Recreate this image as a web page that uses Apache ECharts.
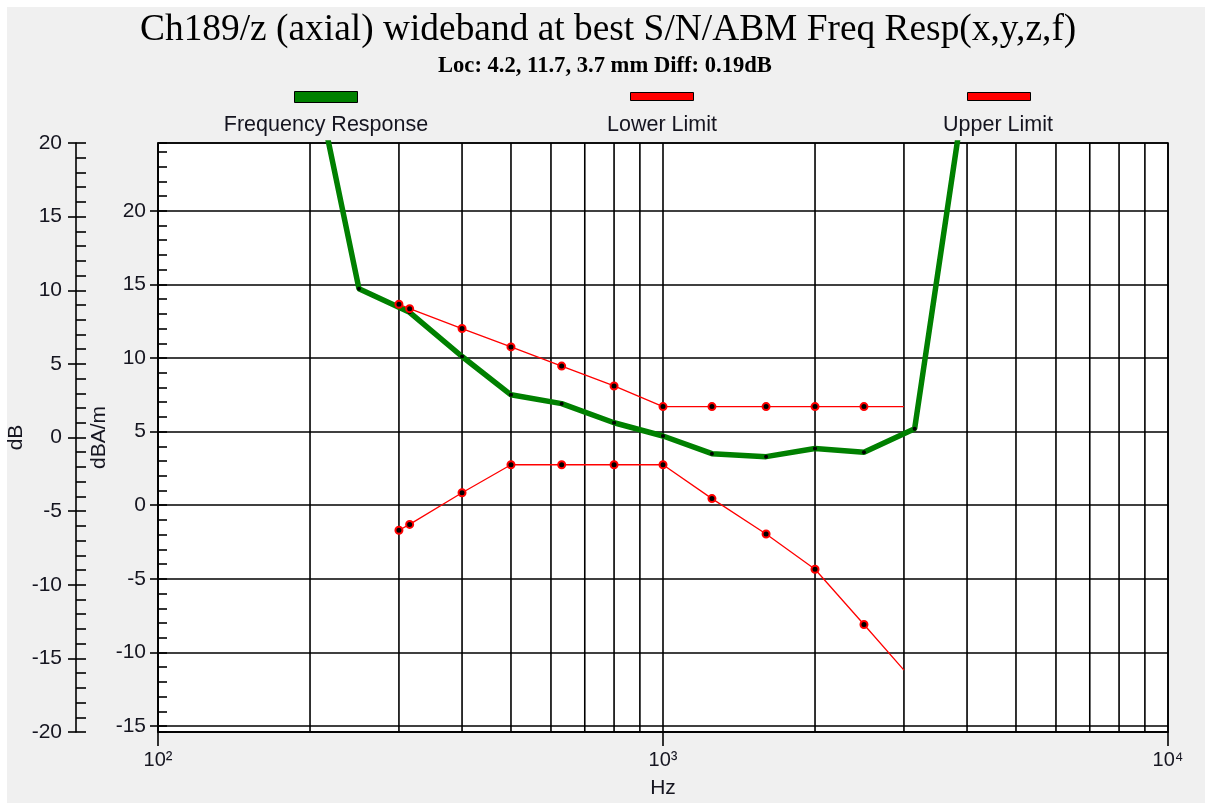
<!DOCTYPE html>
<html><head><meta charset="utf-8">
<script src="https://cdn.jsdelivr.net/npm/echarts@6/dist/echarts.min.js"></script>
<style>
html,body{margin:0;padding:0;background:#fff;}
#c{width:1205px;height:803px;background:#f0f0f0;box-shadow:inset 7px 7px 0 0 #fff;}
</style></head><body><div id="c"></div>
<script>
// ---- chart data ----
const titleText = 'Ch189/z (axial) wideband at best S/N/ABM Freq Resp(x,y,z,f)';
const subtitleText = 'Loc: 4.2, 11.7, 3.7 mm Diff: 0.19dB';
const seriesNames = ['Frequency Response', 'Lower Limit', 'Upper Limit'];
const respFreq = [200, 250, 315, 400, 500, 630, 800, 1000, 1250, 1600, 2000, 2500, 3150, 4000];
const respDb   = [30.7, 14.7, 13.1, 10.1, 7.5, 6.9, 5.6, 4.7, 3.5, 3.3, 3.85, 3.6, 5.2, 29.1];
const limitFreq = [300, 315, 400, 500, 630, 800, 1000, 1250, 1600, 2000, 2500, 3000];
const upperDb   = [13.65, 13.35, 12.0, 10.75, 9.45, 8.1, 6.7, 6.7, 6.7, 6.7, 6.7, 6.7];
const lowerDb   = [-1.7, -1.3, 0.85, 2.75, 2.75, 2.75, 2.75, 0.45, -1.95, -4.35, -8.1, -11.2];
const gridFreq  = [200, 300, 400, 500, 600, 700, 800, 900, 2000, 3000, 4000, 5000, 6000, 7000, 8000, 9000];
const xRange = [100, 10000];
const innerRange = [-15.4, 24.6];   // dBA/m
const outerRange = [-20, 20];       // dB
const innerTicks = [-15, -10, -5, 0, 5, 10, 15, 20];
const supDigits = {2: '\u00b2', 3: '\u00b3', 4: '\u2074'};

// ---- styles ----
const SANS = '"Liberation Sans", Arial, sans-serif';
const SERIF = '"Liberation Serif", "Times New Roman", serif';
const TXT = '#151520';
const BLK = '#000';
const LW = 1.6;

const chart = echarts.init(document.getElementById('c'), null, {renderer: 'canvas'});

const lastIdx = limitFreq.length - 1;
const limitSymbolSize = (v, p) => (p.dataIndex === lastIdx ? 0 : 7);

const option = {
  animation: false,
  backgroundColor: 'transparent',
  title: [
    {text: titleText, left: 135, top: 7,
     textStyle: {fontFamily: SERIF, fontSize: 37.4, fontWeight: 'normal', color: BLK}},
    {text: subtitleText, left: 433, top: 50,
     textStyle: {fontFamily: SERIF, fontSize: 22.6, fontWeight: 'bold', color: BLK}}
  ],
  legend: [
    {data: [{name: seriesNames[0], itemStyle: {color: '#008000', borderColor: BLK, borderWidth: 1}}],
     left: 294, top: 91, itemWidth: 63, itemHeight: 11, icon: 'rect', padding: 0,
     selectedMode: false, formatter: () => ''},
    {data: [{name: seriesNames[1], itemStyle: {color: '#ff0000', borderColor: BLK, borderWidth: 1}}],
     left: 630, top: 92, itemWidth: 63, itemHeight: 8, icon: 'rect', padding: 0,
     selectedMode: false, formatter: () => ''},
    {data: [{name: seriesNames[2], itemStyle: {color: '#ff0000', borderColor: BLK, borderWidth: 1}}],
     left: 967, top: 92, itemWidth: 63, itemHeight: 8, icon: 'rect', padding: 0,
     selectedMode: false, formatter: () => ''}
  ],
  graphic: [
    {type: 'text', x: 326, y: 125, silent: true,
     style: {text: seriesNames[0], font: '21.5px ' + SANS, fill: TXT, align: 'center', verticalAlign: 'middle'}},
    {type: 'text', x: 662, y: 125, silent: true,
     style: {text: seriesNames[1], font: '21.5px ' + SANS, fill: TXT, align: 'center', verticalAlign: 'middle'}},
    {type: 'text', x: 998, y: 125, silent: true,
     style: {text: seriesNames[2], font: '21.5px ' + SANS, fill: TXT, align: 'center', verticalAlign: 'middle'}}
  ],
  grid: {left: 158, right: 37, top: 143, bottom: 71, show: true,
         backgroundColor: '#fff', borderColor: BLK, borderWidth: LW, outerBoundsMode: 'none'},
  xAxis: {
    type: 'log', logBase: 10, min: xRange[0], max: xRange[1],
    name: 'Hz', nameLocation: 'middle', nameGap: 46, nameMoveOverlap: false,
    nameTextStyle: {fontFamily: SANS, fontSize: 21, color: TXT},
    axisLine: {show: true, onZero: false, lineStyle: {color: BLK, width: LW}},
    axisTick: {show: true, length: 14, lineStyle: {color: BLK, width: LW}},
    axisLabel: {margin: 18, fontFamily: SANS, fontSize: 20, color: TXT,
                formatter: v => '10' + supDigits[Math.round(Math.log10(v))]},
    splitLine: {show: true, lineStyle: {color: BLK, width: LW}}
  },
  yAxis: [
    { // inner dBA/m axis (data axis)
      type: 'value', position: 'left', offset: 0, min: innerRange[0], max: innerRange[1], splitNumber: 8,
      name: 'dBA/m', nameLocation: 'middle', nameGap: 48, nameMoveOverlap: false,
      nameTextStyle: {fontFamily: SANS, fontSize: 21, color: TXT},
      axisLine: {show: true, onZero: false, lineStyle: {color: BLK, width: LW}},
      axisTick: {show: true, inside: true, length: 9, lineStyle: {color: BLK, width: LW}},
      minorTick: {show: true, splitNumber: 5, length: 9, lineStyle: {color: BLK, width: LW}},
      axisLabel: {margin: 12, fontFamily: SANS, fontSize: 21, color: TXT,
                  showMinLabel: false, showMaxLabel: false,
                  formatter: v => (Math.abs(v / 5 - Math.round(v / 5)) < 1e-6 ? String(v) : '')},
      splitLine: {show: true, lineStyle: {color: BLK, width: LW}}
    },
    { // outer dB axis
      type: 'value', position: 'left', offset: 82, min: outerRange[0], max: outerRange[1], interval: 5,
      name: 'dB', nameLocation: 'middle', nameGap: 49, nameMoveOverlap: false,
      nameTextStyle: {fontFamily: SANS, fontSize: 21, color: TXT},
      axisLine: {show: true, onZero: false, lineStyle: {color: BLK, width: LW}},
      axisTick: {show: true, inside: true, length: 10, lineStyle: {color: BLK, width: LW}},
      minorTick: {show: true, splitNumber: 5, length: 10, lineStyle: {color: BLK, width: LW}},
      axisLabel: {margin: 14, fontFamily: SANS, fontSize: 21, color: TXT},
      splitLine: {show: false}
    },
    { // outer axis: outward half of major ticks
      type: 'value', position: 'left', offset: 82, min: outerRange[0], max: outerRange[1], interval: 5,
      axisLine: {show: false}, axisLabel: {show: false}, splitLine: {show: false},
      axisTick: {show: true, inside: false, length: 8, lineStyle: {color: BLK, width: LW}}
    },
    { // inner axis: outward half of major ticks
      type: 'value', position: 'left', offset: 0, min: innerRange[0], max: innerRange[1],
      axisLine: {show: false}, axisLabel: {show: false}, splitLine: {show: false},
      axisTick: {show: true, inside: false, length: 8, customValues: innerTicks,
                 lineStyle: {color: BLK, width: LW}}
    }
  ],
  series: [
    { // minor log grid lines
      type: 'custom', xAxisIndex: 0, yAxisIndex: 0, z: 1, silent: true,
      data: gridFreq.map(f => [f, 0]),
      encode: {x: 0, y: 1},
      renderItem: (params, api) => {
        const f = api.value(0);
        const p1 = api.coord([f, innerRange[0]]);
        const p2 = api.coord([f, innerRange[1]]);
        return {type: 'line', shape: {x1: p1[0], y1: p1[1], x2: p2[0], y2: p2[1]},
                style: {stroke: BLK, lineWidth: LW}};
      }
    },
    {
      name: seriesNames[0], type: 'line', xAxisIndex: 0, yAxisIndex: 0, z: 3,
      data: respFreq.map((f, i) => [f, respDb[i]]),
      symbol: 'circle', symbolSize: 4, showAllSymbol: true, clip: true,
      lineStyle: {color: '#008000', width: 5.5},
      itemStyle: {color: '#000'}
    },
    {
      name: seriesNames[1], type: 'line', xAxisIndex: 0, yAxisIndex: 0, z: 4,
      data: limitFreq.map((f, i) => [f, lowerDb[i]]),
      symbol: 'circle', symbolSize: limitSymbolSize, showAllSymbol: true, clip: true,
      lineStyle: {color: '#ff0000', width: 1.3},
      itemStyle: {color: '#000', borderColor: '#ff0000', borderWidth: 2}
    },
    {
      name: seriesNames[2], type: 'line', xAxisIndex: 0, yAxisIndex: 0, z: 4,
      data: limitFreq.map((f, i) => [f, upperDb[i]]),
      symbol: 'circle', symbolSize: limitSymbolSize, showAllSymbol: true, clip: true,
      lineStyle: {color: '#ff0000', width: 1.3},
      itemStyle: {color: '#000', borderColor: '#ff0000', borderWidth: 2}
    }
  ]
};
chart.setOption(option);
</script></body></html>
